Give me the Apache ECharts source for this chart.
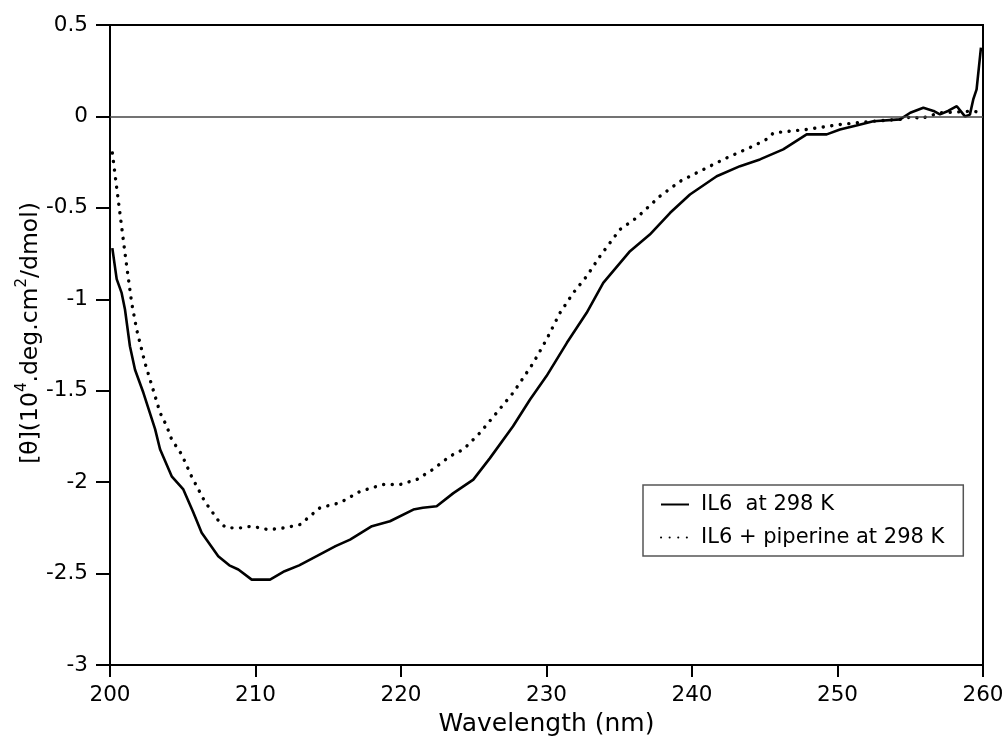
<!DOCTYPE html>
<html>
<head>
<meta charset="utf-8">
<script src="https://cdn.jsdelivr.net/npm/echarts@6/dist/echarts.min.js"></script>
<style>
html,body{margin:0;padding:0;background:#fff;}
#chart{width:1006px;height:740px;}
</style>
</head>
<body>
<div id="chart"></div>
<script>
// Wavelength (nm) and ellipticity values
const il6Wavelength = [200.16,200.46,200.8,201.03,201.37,201.72,202.29,203.1,203.44,204.24,205.04,205.7,206.3,207.44,208.2,208.82,209.74,211.0,212.0,213.0,214.4,215.5,216.5,218.0,219.24,220.85,221.5,222.45,223.6,224.97,226.1,227.7,228.87,230.0,231.4,232.76,233.9,235.74,237.1,238.5,239.86,241.7,243.3,244.67,246.27,247.88,249.26,250.17,251.3,252.46,254.3,255.0,255.9,256.6,257.04,257.6,258.2,258.76,259.1,259.33,259.56,259.86];
const il6Values = [-0.72,-0.89,-0.965,-1.056,-1.257,-1.385,-1.51,-1.71,-1.82,-1.968,-2.04,-2.16,-2.277,-2.405,-2.455,-2.478,-2.533,-2.533,-2.487,-2.455,-2.396,-2.35,-2.314,-2.241,-2.214,-2.15,-2.14,-2.132,-2.06,-1.986,-1.87,-1.694,-1.548,-1.42,-1.238,-1.074,-0.91,-0.737,-0.646,-0.527,-0.427,-0.327,-0.272,-0.235,-0.18,-0.098,-0.098,-0.071,-0.05,-0.026,-0.016,0.02,0.047,0.03,0.011,0.03,0.056,0.0,0.01,0.093,0.148,0.376];

const pipWavelength = [200.16,200.39,200.62,200.85,201.15,201.49,201.83,202.4,203.1,203.44,203.9,204.24,204.93,205.6,206.5,207.56,208.0,209.0,209.74,210.88,212.0,213.06,214.43,215.8,217.2,218.78,219.93,221.08,222.2,223.37,224.3,225.43,226.58,227.72,229.1,230.0,230.93,231.84,232.76,233.68,235.05,236.2,237.8,239.2,240.78,242.4,244.2,245.1,245.6,247.88,250.17,252.46,254.3,255.2,255.67,257.04,258.2,259.33,259.8];
const pipValues = [-0.2,-0.345,-0.49,-0.636,-0.82,-1.02,-1.165,-1.347,-1.53,-1.62,-1.694,-1.767,-1.849,-1.968,-2.104,-2.223,-2.25,-2.25,-2.241,-2.26,-2.25,-2.232,-2.14,-2.113,-2.05,-2.013,-2.013,-1.986,-1.93,-1.858,-1.82,-1.73,-1.62,-1.51,-1.347,-1.22,-1.074,-0.965,-0.874,-0.764,-0.618,-0.554,-0.436,-0.354,-0.29,-0.226,-0.162,-0.126,-0.09,-0.071,-0.044,-0.026,-0.016,0.0,-0.013,0.02,0.024,0.03,0.02];

const seriesNames = ['IL6  at 298 K', 'IL6 + piperine at 298 K'];
const xTitle = 'Wavelength (nm)';
// y title pieces: [θ](10^4.deg.cm^2/dmol)
const yTitleParts = ['[θ](10', '4', '.deg.cm', '2', '/dmol)'];

const zip = (xs, ys) => xs.map((x, i) => [x, ys[i]]);
const FONT = 'DejaVu Sans';

const yTitleRich = '{n|' + yTitleParts[0] + '}{s|' + yTitleParts[1] + '}{n|' + yTitleParts[2] + '}{s|' + yTitleParts[3] + '}{n|' + yTitleParts[4] + '}';

const chart = echarts.init(document.getElementById('chart'), null, {renderer: 'canvas'});
chart.setOption({
  animation: false,
  backgroundColor: '#fff',
  grid: {left: 110, right: 23, top: 25, bottom: 75, show: true, borderColor: '#000', borderWidth: 2, containLabel: false, outerBoundsMode: 'none'},
  xAxis: {
    type: 'value', min: 200, max: 260, interval: 10,
    name: xTitle, nameLocation: 'middle', nameGap: 47, nameMoveOverlap: false,
    nameTextStyle: {fontFamily: FONT, fontSize: 25, color: '#000'},
    axisLine: {show: true, onZero: false, lineStyle: {color: '#000', width: 2}},
    axisTick: {show: true, length: 12, lineStyle: {color: '#000', width: 2}},
    axisLabel: {fontFamily: FONT, fontSize: 21.5, color: '#000', margin: 19},
    splitLine: {show: false}
  },
  yAxis: {
    type: 'value', min: -3, max: 0.5, interval: 0.5,
    name: yTitleRich, nameLocation: 'middle', nameGap: 67, nameRotate: 90, nameMoveOverlap: false,
    nameTextStyle: {
      fontFamily: FONT, fontSize: 23.5, color: '#000', padding: [0, 0, 0, 24],
      rich: {
        n: {fontFamily: FONT, fontSize: 23.5, color: '#000', lineHeight: 28, verticalAlign: 'bottom'},
        s: {fontFamily: FONT, fontSize: 15, color: '#000', lineHeight: 28, verticalAlign: 'top'}
      }
    },
    axisLine: {show: true, onZero: false, lineStyle: {color: '#000', width: 2}},
    axisTick: {show: true, length: 14, lineStyle: {color: '#000', width: 2}},
    axisLabel: {fontFamily: FONT, fontSize: 21.5, color: '#000', margin: 22},
    splitLine: {show: false}
  },
  legend: {
    orient: 'vertical', left: 643, top: 485,
    padding: [9, 19, 8, 17], itemGap: 12,
    itemWidth: 28, itemHeight: 14,
    borderColor: '#555', borderWidth: 1.5, backgroundColor: '#fff',
    itemStyle: {color: 'rgba(0,0,0,0)', borderWidth: 0, opacity: 0},
    textStyle: {fontFamily: FONT, fontSize: 21, color: '#000', padding: [0, 0, 0, 7]},
    data: seriesNames
  },
  series: [
    {
      name: seriesNames[0], type: 'line', data: zip(il6Wavelength, il6Values),
      symbol: 'none', smooth: false,
      lineStyle: {color: '#000', width: 2.6},
      itemStyle: {color: '#000'},
      markLine: {
        silent: true, symbol: 'none', label: {show: false},
        lineStyle: {color: '#444', width: 1.5, type: 'solid'},
        data: [{yAxis: 0}]
      },
      z: 3
    },
    {
      name: seriesNames[1], type: 'line', data: zip(pipWavelength, pipValues),
      symbol: 'none', smooth: false,
      lineStyle: {color: '#000', width: 3.4, type: [0.1, 8.5], cap: 'round'},
      itemStyle: {color: '#000'},
      z: 2
    }
  ]
});
</script>
</body>
</html>
